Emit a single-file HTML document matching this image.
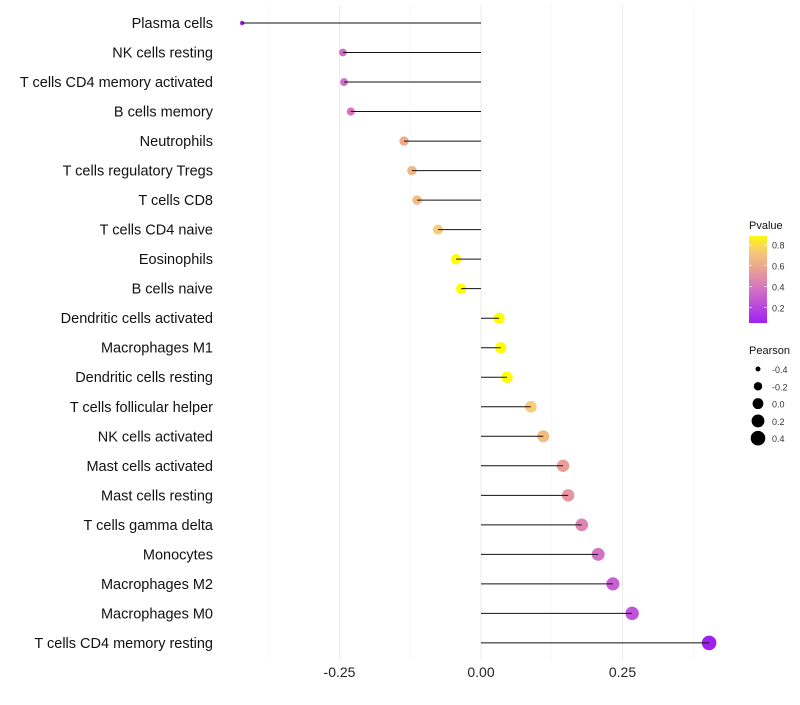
<!DOCTYPE html>
<html><head><meta charset="utf-8"><style>
body{margin:0;background:#fff;font-family:"Liberation Sans",sans-serif}
</style></head><body>
<svg id="chart" width="800" height="700" xmlns="http://www.w3.org/2000/svg"></svg>
<script>
const categories=["Plasma cells","NK cells resting","T cells CD4 memory activated","B cells memory","Neutrophils","T cells regulatory  Tregs","T cells CD8","T cells CD4 naive","Eosinophils","B cells naive","Dendritic cells activated","Macrophages M1","Dendritic cells resting","T cells follicular helper","NK cells activated","Mast cells activated","Mast cells resting","T cells gamma delta","Monocytes","Macrophages M2","Macrophages M0","T cells CD4 memory resting"];
const pearson=[-0.422,-0.244,-0.242,-0.230,-0.136,-0.122,-0.113,-0.076,-0.044,-0.035,0.032,0.035,0.046,0.088,0.110,0.145,0.154,0.178,0.207,0.233,0.267,0.403];
const pvalue=[0.05,0.36,0.36,0.38,0.6,0.65,0.68,0.75,0.9,0.9,0.9,0.9,0.92,0.75,0.68,0.55,0.52,0.45,0.38,0.3,0.25,0.03];
const xTicks=[-0.25,0,0.25];
const xTickLabels=["-0.25","0.00","0.25"];
const pTicks=[0.2,0.4,0.6,0.8];
const sizeTicks=[-0.4,-0.2,0.0,0.2,0.4];
const sizeTickLabels=["-0.4","-0.2","0.0","0.2","0.4"];

const NS="http://www.w3.org/2000/svg";
const svg=document.getElementById('chart');
function mk(t,a,p){const e=document.createElementNS(NS,t);for(const k in a)e.setAttribute(k,a[k]);(p||svg).appendChild(e);return e;}
const x=v=>481+v*566;
const y=i=>23+i*29.52;
const r=v=>Math.sqrt(5+(v+0.42)/0.82*48);
const stops=[[0.05,[160,32,240]],[0.35,[208,108,204]],[0.6,[240,170,135]],[0.75,[246,205,120]],[0.9,[255,255,0]]];
function col(p){if(p<=stops[0][0])return 'rgb('+stops[0][1]+')';for(let i=1;i<stops.length;i++){if(p<=stops[i][0]){const a=stops[i-1],b=stops[i],t=(p-a[0])/(b[0]-a[0]);return 'rgb('+a[1].map((c,j)=>Math.round(c+(b[1][j]-c)*t))+')';}}return 'rgb(255,255,0)';}
// grid
[-0.375,-0.125,0.125,0.375].forEach(v=>{const l=mk('line',{x1:x(v),x2:x(v),y1:5,y2:660,stroke:'#f3f3f3','stroke-width':0.6});});
xTicks.forEach((v,i)=>{const l=mk('line',{x1:x(v),x2:x(v),y1:5,y2:660,stroke:'#ebebeb','stroke-width':1});
const t=mk('text',{x:x(v),y:677,'text-anchor':'middle','font-size':14,fill:'#222'});t.textContent=xTickLabels[i];});
categories.forEach((c,i)=>{
const t=mk('text',{x:213,y:y(i)+5,'text-anchor':'end','font-size':14.5,fill:'#111'});t.textContent=c;
const d=mk('circle',{cx:x(pearson[i]),cy:y(i),r:r(pearson[i]),fill:col(pvalue[i])});
const l=mk('line',{x1:x(0),x2:x(pearson[i]),y1:y(i),y2:y(i),stroke:'#111','stroke-width':1});
});
// legend pvalue
const defs=mk('defs',{});const g=mk('linearGradient',{id:'pg',x1:0,y1:1,x2:0,y2:0},defs);
[0,0.2,0.4,0.6,0.8,1].forEach(f=>{const p=0.05+f*0.83;mk('stop',{offset:f,'stop-color':col(p)},g);});
const lt=mk('text',{x:749,y:229,'font-size':11,fill:'#111'});lt.textContent='Pvalue';
const cb=mk('rect',{x:749,y:236,width:18,height:87,fill:'url(#pg)'});
const py=p=>323-(p-0.05)/0.83*87;
pTicks.forEach(p=>{mk('line',{x1:749,x2:752,y1:py(p),y2:py(p),stroke:'#fff','stroke-width':0.6});mk('line',{x1:764,x2:767,y1:py(p),y2:py(p),stroke:'#fff','stroke-width':0.6});
const t=mk('text',{x:772,y:py(p)+4,'font-size':9,fill:'#333'});t.textContent=p.toFixed(1);});
const st=mk('text',{x:749,y:354,'font-size':11,fill:'#111'});st.textContent='Pearson';
sizeTicks.forEach((v,i)=>{const yy=369+i*17.3;const c=mk('circle',{cx:758,cy:yy,r:r(v),fill:'#000'});
const t=mk('text',{x:772,y:yy+4,'font-size':9,fill:'#333'});t.textContent=sizeTickLabels[i];});
</script>
</body></html>
